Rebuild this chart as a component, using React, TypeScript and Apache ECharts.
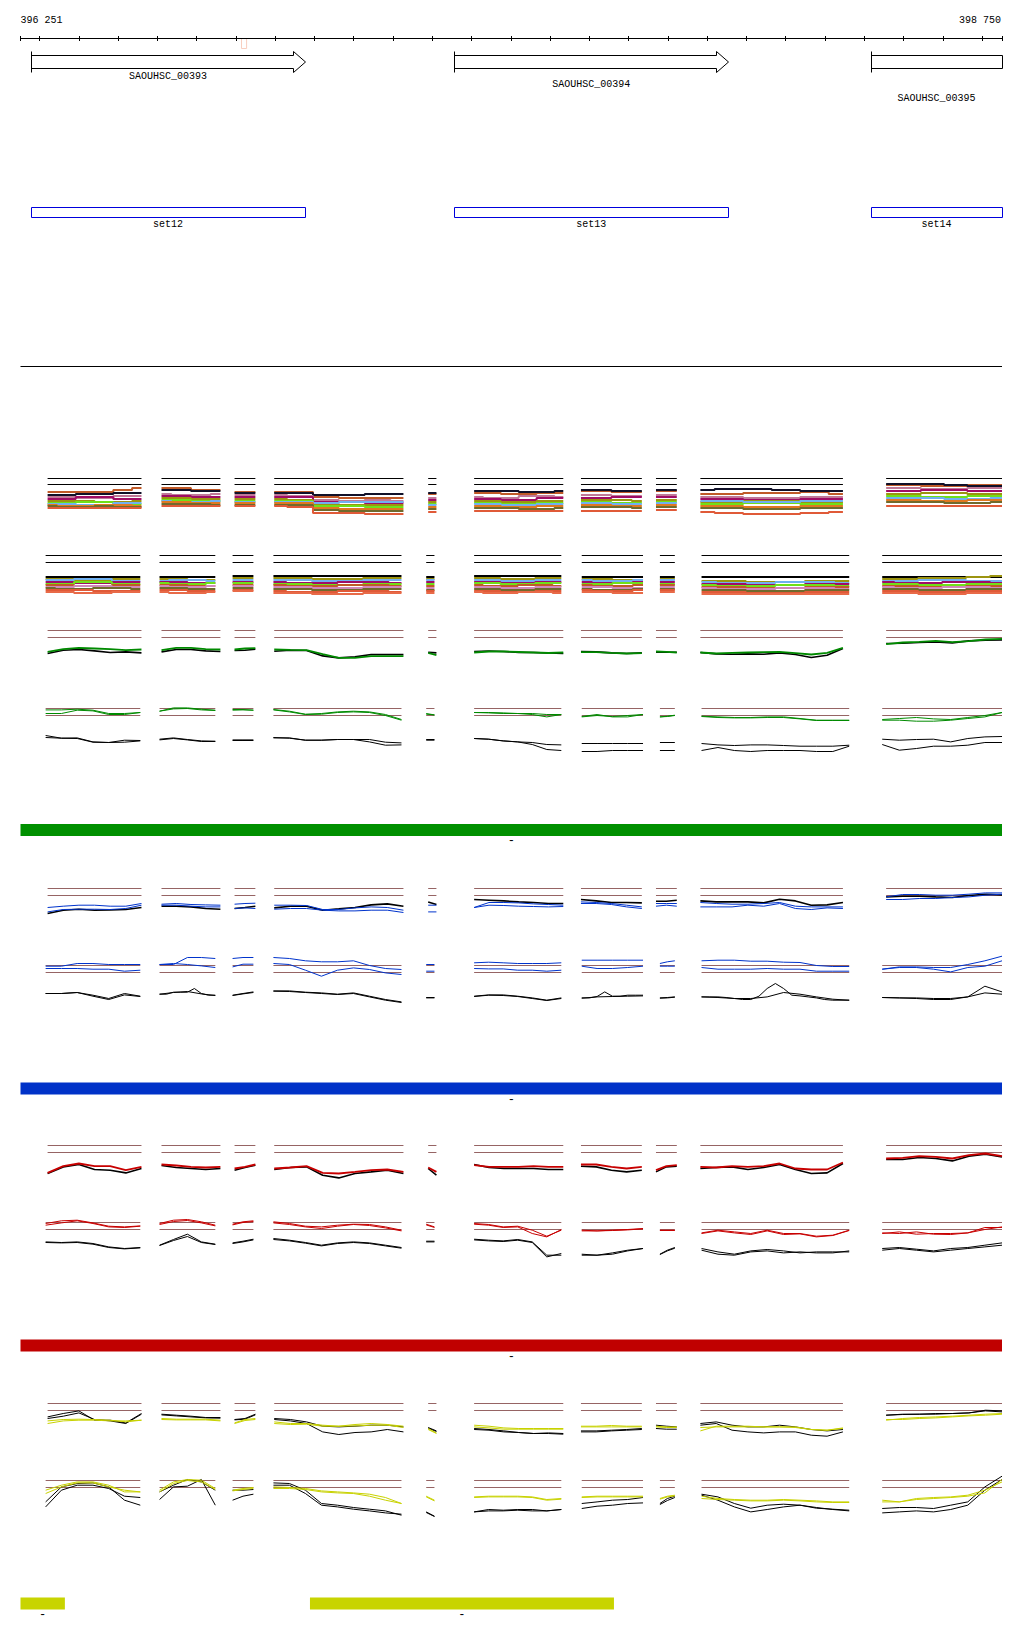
import React, { useEffect, useRef } from "react";
import * as echarts from "echarts";

// ---------------- region / ruler ----------------
const REGION_START = 396251;
const REGION_END = 398750;
const TICK_STEP = 100;
const rulerLabels = ["396 251", "398 750"];

// ---------------- genes ----------------
const geneNames = ["SAOUHSC_00393", "SAOUHSC_00394", "SAOUHSC_00395"];
const geneStarts = [396277, 397355, 398417];
const geneEnds = [396976, 398053, 398750];
const geneOpenEnd = [0, 0, 1];
const geneLabelLane = [0, 1, 2];

// ---------------- sets ----------------
const setNames = ["set12", "set13", "set14"];
const setStarts = [396277, 397355, 398417];
const setEnds = [396976, 398053, 398750];

const markerStarts = [396813];
const markerEnds = [396826];

// ---------------- probe windows ----------------
const segOdd = [
  [396320, 396559], [396610, 396760], [396796, 396849], [396897, 397226], [397289, 397310],
  [397406, 397633], [397678, 397833], [397869, 397922], [397982, 398345], [398455, 398750],
];
const segEven = [
  [396315, 396556], [396605, 396747], [396791, 396844], [396895, 397221], [397284, 397305],
  [397406, 397628], [397680, 397836], [397879, 397917], [397985, 398361], [398445, 398750],
];

// ---------------- group A (many samples), values = depth below threshold ----------------
const a1Sienna = [[14,14,14,14,12,10],[10,10,12,12],[14],[14,14,19,20,20,20],[16],[15,15,16,16,15,15],[13,13,14,14],[13],[16,16,15,15,14,16],[7,7,8,8,7,7]];
const a1Navy = [[17,17,16,16,15,15],[12,12,13,13],[15],[15,15,17,17,16,16],[15],[13,13,13,14,14,13],[12,12,13,13],[12],[12,11,11,12,13,13],[6,6,6,7,8,8]];
const a1Mauve = [[19,19,20,20,18,18],[16,17,17,16],[17],[17,18,22,23,22,23],[20],[19,20,20,18,18,19],[17,17,18,18],[17],[19,19,20,20,19,19],[10,10,11,11,10,10]];
const a1Magenta = [[21,21,19,19,21,21],[18,18,19,19],[19],[19,19,24,24,25,25],[22],[21,21,22,22,20,20],[20,20,19,19],[19],[21,21,22,22,21,21],[13,13,12,12,13,13]];
const a1Olive = [[23,23,23,24,24,23],[20,20,21,21],[21],[21,22,26,27,27,27],[24],[23,23,24,24,23,23],[22,22,22,23],[22],[24,24,23,23,24,24],[16,16,15,15,16,16]];
const a1Lime = [[25,25,24,24,26,26],[22,22,23,23],[23],[23,23,28,28,29,29],[26],[25,25,26,26,25,25],[24,24,25,25],[24],[26,26,25,25,26,26],[18,18,19,19,18,18]];
const a1Sky = [[26,26,27,27,25,25],[23,24,24,23],[24],[24,24,25,24,24,24],[27],[26,26,27,27,26,26],[25,25,26,26],[25],[23,23,24,24,23,23],[20,20,20,21,21,20]];
const a1Orange = [[27,28,28,27,27,28],[24,24,25,25],[25],[25,25,30,31,31,31],[29],[28,28,29,29,28,28],[27,27,28,28],[27],[28,28,29,29,28,28],[22,22,23,23,22,22]];
const a1DarkOlive = [[28,29,29,28,29,29],[26,26,26,27],[27],[27,27,32,33,33,33],[31],[30,30,30,31,31,30],[29,29,29,30],[29],[30,30,31,31,30,30],[24,24,24,25,25,24]];
const a1Tomato = [[30],[28],[28],[28,29,35,35,36,36],[34],[33],[33],[32],[34,35,36,36,35,34],[28]];

const a2Black = [[22],[22],[21],[21],[22],[21],[22],[22],[22],[22]];
const a2Olive = [[24,24,25,25,24,24],[24,24,25,25],[23],[23,23,24,24,23,23],[24],[23,23,24,24,23,23],[24,24,25,25],[24],[26,26,27,27,26,26],[24,24,23,23,22,21]];
const a2Sky = [[25,25,24,24,26,26],[26,25,25,26],[25],[25,25,26,26,25,25],[25],[25,25,26,26,25,25],[25,26,26,25],[25],[27,28,28,27,27,28],[26,26,25,25,26,26]];
const a2Magenta = [[27,27,28,28,27,27],[27,27,28,28],[27],[27,28,28,27,27,28],[27],[27,27,28,28,27,27],[27,28,28,27],[27],[29,29,30,30,29,29],[27,28,28,27,27,28]];
const a2Lime = [[29,29,27,27,29,29],[28,29,29,28],[28],[29,29,30,30,29,29],[29],[28,28,29,29,28,28],[29,29,28,28],[29],[30,31,31,30,30,31],[29,29,30,30,29,29]];
const a2Sienna = [[30,30,31,31,30,30],[30,30,31,31],[30],[30,31,31,30,30,31],[31],[30,31,31,30,30,31],[30,31,31,30],[30],[32,32,33,33,32,32],[31,31,32,32,31,31]];
const a2Pink = [[32,32,31,31,32,32],[31,32,32,31],[31],[32,32,33,33,32,32],[33],[32,32,33,33,32,32],[32,32,33,33],[32],[33,34,34,33,33,34],[32,33,33,32,32,33]];
const a2DarkOlive = [[33,34,34,33,33,34],[33,33,34,34],[33],[34,34,35,35,34,34],[35],[34,34,35,35,34,34],[34,35,35,34],[34],[35,35,36,36,35,35],[34,34,35,35,34,34]];
const a2Tomato = [[35,35,35,36,36,36],[35,35,36,36],[35],[36,37,37,36,36,37],[36],[36,36,37,37,36,36],[35,36,36,35],[35],[37,37,38,38,37,37],[36,36,37,37,36,36]];
const a2Salmon = [[37,37,38,38,37,37],[37,38,38,37],[36],[38,38,39,39,38,38],[38],[37,38,38,37,37,38],[37,37,38,38],[37],[39],[38,38,39,39,38,38]];

// ---------------- green group ----------------
const g1Green = [[21.4,18.7,17.4,18,18.7,19.7,19],[19.7,17.4,17.4,18.7,19],[19,18,17.7],[19,19.4,19.7,23.7,27.4,27.4,25.7,25.7,25.7],[22.4,24.7],[22,21,21,21.5,22,22.5,22],[21.7,21.7,22.4,23,22.7],[21,21.4,22],[22,23,22.4,22,21.7,21.4,22.7,24,22.4,17.4],[13.7,12,11.4,10.4,11.7,10.7,9,8.4]];
const g1Black = [[23,19.7,19,20.4,22,21.4,22.4],[21.4,19,19,20.4,21],[20,19.7,18.7],[20.7,19.7,20,25.4,27.4,26.4,24,24,24],[21.7,22.4],[21,20.5,21,22,22,22.5,23],[21,21.4,22.4,23,22.4],[21.7,21.7,21.7],[22,23.4,23.7,23.4,23.7,22.4,24,27,24.7,18],[13,12.7,12,11.4,12.4,10.4,9.7,9.4]];
const g2Green1 = [[1.4,1.4,0.7,1.7,5,5,4],[2.7,-0.6,-0.6,0.7,1.7],[1,1,1.7],[1,2.7,5.7,5,3.4,2.7,3.4,6,11],[5,6.4],[4,4,4.4,5,5,6,6],[8,6,8.4,8.4,6],[8.4,7.7,6.7],[7.7,8.4,9,9,8.4,8.4,10,11.7,11.7,11.7],[11,10,9,10.4,11,9,7,4]];
const g2Green2 = [[5,5,1.7,2.4,6,6,4],[2.7,0.4,0,1.4,2],[1.7,1.4,1.7],[1.4,3.4,6,5.7,4,3.4,4,7,11.7],[5.7,6.4],[4,4.4,5,5,6,8.4,6],[8.4,7,8,7,6],[8.4,8,7],[8,9,9.4,9.4,9,9,10.4,12,12,12],[11.7,11.7,12.7,12.7,11.7,10,8.4,4]];
const g2Black1 = [[27,29.7,29.4,33.4,34,31.7,32],[30.7,29.4,31,32.4,32.7],[31.4,31.4,31.4],[29,29.7,31.7,31.7,31,31,31,33.7,34.4],[31,31],[30,30.7,32.4,33.4,34,36,36.4],[35,35,35,35,35],[34,34],[35,36.4,37,36.4,36.4,37,37.7,37.7,37.7,36.7],[30.7,31.7,31,30.7,33.4,30,28.4,28]];
const g2Black2 = [[29,29.7,30,33.7,34,33.7,32.4],[31.4,30,31.4,33,33],[32,32,32],[29.4,29.4,31.7,31.7,31,31,33.4,36.7,36.4],[31.7,31.7],[30,30.7,32.4,33.4,36,41,42],[43,43,42,42,42],[42,42],[42,39,42,43,42,42,42,43,43,37.7],[36,41.7,40,37.7,37.7,36.7,34,34]];

// ---------------- blue group ----------------
const c1Blue1 = [[19,17.7,16.7,16.7,17.7,17.7,15],[15.7,15,16,16.4,16.7],[15.7,15,14.7],[16.7,16.7,17,21,21,19.4,18.4,19,21.7],[16.7,16.7],[19,14,14,14.4,15.4,16,16.7],[13.4,14,15,16.7,18.4],[15,15,15],[14,15,15.7,15.7,15,14,17.7,18.4,18.4,18.4],[8.4,6,6,6.7,6.7,5.7,4.4,4.4]];
const c1Blue2 = [[23.4,21,20.7,20.7,21,20,16.7],[16.7,16.7,17.7,18.4,18.4],[20,19.4,20],[20.7,20,20,21.7,22.4,22.4,21.7,21.7,24],[23.4,23.4],[19,16.7,17,17.7,18,18.4,18],[15,15,16,18.4,20],[17.7,16.7,17.7],[18.4,18.4,18.4,16.7,17.7,15,20,21,19.4,20],[11,11,10,10,9,8.4,6.7,5.7]];
const c1Black = [[25,21.7,20.7,21.7,21.4,21,19],[17.7,17.7,18.4,20,20.7],[20,19,17.7],[19.4,17.7,17.7,21.7,20.4,19,16.4,15.4,17.7],[13.4,16],[11,11.7,12.4,13.4,14,15,15],[11,12.4,14,14,14.4],[12.7,12.7,11.7],[12.4,13.4,13.4,13.4,14.4,10.7,12.4,16.7,16.4,14],[8.4,7.7,7.7,8.4,9,7,5.7,6.4]];
const c2Blue1 = [[0.7,0.7,-2,-2,-1,-1,-1],[-1,-1,-8,-8,-7],[-7,-8,-8],[-8,-7,-4.7,-3.7,-3.7,-4.7,0,3,4],[-1,-1],[-2.7,-3.3,-2.7,-2,-2,-2,-2.7],[-5.3,-5.3,-5.3,-5.3,-5.3],[-2,-3.7,-4.7],[-4.7,-5.3,-5.3,-4.3,-4.3,-3.3,-3,0,1,1],[3.7,1.4,1.4,2,2,-1,-4.7,-9.3]];
const c2Blue2 = [[3,3,3,3.7,3.7,5.7,4.7],[-1,-2,-1,0.4,2],[1.4,-1.3,-1.3],[-2,-1,4.7,10.7,4.7,2.4,4,7.4,9],[5.7,5.7],[3,3.4,3.4,4.7,4.7,5.7,4.7],[0.7,3,3,2,0.7],[0.7,0.7,0.7],[2,3.7,3.7,3.7,3,3.7,3.7,5.7,5.7,5.7],[3.7,2,2,3.7,6.4,2,0.7,-4.7]];
const c2Black1 = [[28,28,27,29.7,33,28,30.7],[28.7,28.7,26.7,26.7,26.7,23,28,29.7,29.7],[29.7,28,26.4],[25.4,25.4,26.7,27.4,28.7,27.4,30.7,34,36.4],[32,32],[30.7,29.4,29.4,30.7,32.4,34.7,32.4],[32.4,32.4,31,26.4,30.7,30.7,29.7,29.7,29.7],[32.4,32,31.4],[31.4,31.4,31.4,32,33,34,34,30.7,23,18,23,29.7,30.4,31.4,32.4,34,34.7,34.7,34.7],[32,32.4,32.4,33,33,31.4,20.7,26.4]];
const c2Black2 = [[28,28,27,30.7,34,29.4,31],[28.7,27,26,28.4,30],[30,28.4,27],[25.7,26,27,28,29,28,31.4,34.7,37],[32.4,32.4],[31,29.7,30,31,33,35,33],[32.7,31.4,31,30.7,30.4],[32.7,32.4,31.7],[31.4,32,33,33,31.4,27,28.7,31.4,33.7,34.7],[32,32.4,33,34,34,31.4,27.4,28.7]];

// ---------------- red group ----------------
const d1Red = [[27.4,20.7,18,20.7,20.7,24.7,21.4],[19,20,21.4,22,21.4],[23,21.4,19],[23,22,20.7,27.4,28,26.4,24.7,24,26.4],[22,26.4],[19.7,21.4,21.4,21.4,20.7,21.4,21.4],[19,19,21.4,23,21.4],[24.7,20.7,19.7],[21.4,22,20.7,21.4,20.7,18,23,24,24,17],[13,12.4,10.7,11.4,13,9.7,8,10.7]];
const d1Black = [[28,21.4,19,24,24.7,27.4,23],[20,22,23,24,23],[24.7,22,19.7],[24,22,21.4,29.7,32.4,28,26.4,24.7,28],[23,29.7],[19,22,23,23,23,24,24],[20.7,21.4,24.7,26.4,24.7],[26.4,21.4,20.7],[23,22,21.4,24,22,19,24,28,27.4,18],[14,14,12,13,15.4,10.7,8.7,11.4]];
const d2Red1 = [[1,-1.7,-2.3,0.4,3.7,4.4,3.4],[1,-2.3,-3,-0.7,2.7],[1.7,-0.7,-1.7],[-0.7,1,3.7,4.4,2.7,1.7,2,4.4,7.7],[1.7,4.4],[1,2,4.4,3.7,7.7,13.7,7.7],[7.7,8.4,7.7,7,6],[7.7,7.7],[10.4,7.7,9.4,11,7.7,11,11,13.7,12.7,7.7],[11,9.4,11.7,11,11,10.4,5,5]];
const d2Red2 = [[2.7,0.4,-1.7,1,4.4,5,3.7],[2,-1,-2,0.4,3.4],[2.4,0,-1],[0.4,2,4.4,6,3.7,2,3,5.4,8.4],[2.4,5],[1.7,2.7,5,4.4,11,14.4,7],[8.4,8.4,8,7.4,6.4],[8,8],[11,8.4,10.4,12,8.4,12,11.4,14.4,13,8],[10.4,11,9.4,11.7,12,10.4,7,4.4]];
const d2Black1 = [[19.4,20,19.4,21,24.4,26,25],[22.7,17,11.7,19.4,21.7],[20.4,18.7,16.7],[16,17.7,20,22.7,20.4,19.4,20.4,22.7,25],[18.7,18.7],[16.7,17.7,18.4,17,19.4,32.7,32.7],[31.7,32.7,31.7,28.4,26],[31.7,27.7,25],[26,29.4,31.7,28.4,27,28.4,30.4,29.4,29.4,29.4],[26,25,26.7,28.4,26,25,22.7,20.4]];
const d2Black2 = [[20,20.4,20,21.7,25,26.4,25.4],[23,18,14,20,22],[21,19.4,17.4],[17,18.4,20.7,23.4,21,20,21,23.4,25.7],[19.4,19.4],[17.4,18.4,19,17.7,20,34.4,31],[32.7,32.7,30.4,27.7,26],[32,28.4,25.7],[27.7,31.7,32.7,29.4,28.4,30.4,29.4,30.4,30.4,28.4],[27.7,26,27.7,29.4,27.7,26,24.4,22.7]];

// ---------------- yellow group ----------------
const e1Yellow1 = [[17.4,16,15.7,16,16.7,18.4,16.7],[15,15.7,15.7,15.7,16.7],[19.4,16,15],[18.4,20,20,21.7,22.7,21,20,21,22.7],[25,29.4],[21.7,22.7,24.4,25,25,25,25],[22.7,22.7,22,22.7,22.7],[22.7,23.4,23.4],[27.4,22.7,22.7,22.7,23.4,23.4,23.4,26,26.7,24.4],[16.7,15,14,13.4,12.7,11.7,10.7,10]];
const e1Yellow2 = [[20,17.4,16.7,16.7,17.4,17.4,16.7],[16,16.4,16.4,16.4,17.4],[20,17,16],[20,21,20.7,22.7,22.7,22.4,21.7,21.7,24],[26,30],[23.4,24.4,25.7,25.7,25.7,25.7,25.7],[23.4,23.4,23.4,23.4,23.4],[23.4,24,24],[24,23.4,23.4,23.4,23.4,23.4,24,26,26.7,25],[16,16,15,14.4,13.4,12.4,11.7,10.7]];
const e1Black1 = [[13.4,10,7.4,16.7,16.7,19.4,10],[10.7,11.7,12.7,14,14],[16,15,10.7],[15,16,18.4,22.7,23.4,22.7,21.7,21.7,23.4],[24,27.4],[25,26,27.4,29,30,29.4,30],[27.4,27.4,26.7,26,25],[21.7,22.7,23.4],[20,18.4,21.7,23.4,23.4,21.7,23.4,26,27.4,26],[11.7,10.7,10.7,10,10,9.4,7.4,8.4]];
const e1Black2 = [[15,12.7,9.4,16,17.4,20,10.7],[11.4,12.4,13.4,14.4,14.7],[16.4,15.7,11.4],[16,17.4,20,28.4,31,29,28.4,26,28.4],[24.7,28],[26,26.7,28.4,29,30,30,30.7],[28.4,28.4,27.4,26.7,26],[25,25.7,25.7],[21.7,20,26.7,28.4,29.4,28.4,28.4,31.7,32.7,28.4],[11.7,11,10.7,10.7,10,9.4,6.7,7.4]];
const e2Yellow1 = [[9.7,4.7,1.4,1.4,4.7,11.4,11.4],[9.7,1.4,-1,-0.3,8],[9.7,8,7],[6.4,7,8,10.4,11.4,12.4,13.7,17,23],[15.7,19.7],[16.4,15.7,15.7,15.7,16.4,19,18],[16.4,15.7,15.7,15.7,15.7],[18,15.7,14.7],[15.7,18,19,19.7,19.7,19,19.7,20.4,21.4,21.4],[19.7,21.4,18,17,16.4,14.7,9.7,1.4]];
const e2Yellow2 = [[13,6.4,2.4,2.4,6.4,9.7,11.4],[11.4,3,0,1.4,9],[10.4,9,8],[8,8,9,11.4,12.4,13,15.7,19.7,23],[16.4,20.4],[17,16.4,16.4,16.4,17,19.7,18.7],[17,16.4,16.4,16.4,16.4],[18.7,16.4,15.4],[18,19,19.7,20.4,20.4,19.7,20.4,21.4,22,22],[21.4,21.4,19,18,17,15.7,12.4,-1]];
const e2Black1 = [[26.4,9.7,4.7,4.7,8,15.7,17],[19,6.4,5.7,-1,24.7],[19.7,15.7,13.7],[2.4,3,9.7,23,24.7,27,28.7,30.4,34.7],[31.4,35.7],[31.4,29,29.7,29,29,30.4,29],[23,21.4,19.7,19,17],[23,18,15.7],[13.7,16.4,23,27.7,24.7,23.7,24.7,27.7,28.7,29.7],[28,27,27,28,24.7,21.4,6.4,-4.3]];
const e2Black2 = [[21.4,6.4,3,2.4,6.4,19.7,24.7],[11.4,4.7,-1,1.4,9.7],[9.7,9.7,9],[4.7,4.7,13,24.7,26.4,28.7,30.4,32.4,33.7],[32,36],[31.4,30.4,30.4,29.7,30.4,30.4,29],[28,25.7,24.7,23,22.4],[24,20,17],[14.7,19.7,26.4,31.4,29,26.4,24.7,27,29,30.4],[32.4,31.4,30.4,31.4,29,24.7,9.7,-1]];

// ---------------- region bars ----------------
const greenRegions = [[396251, 398750]];
const blueRegions = [[396251, 398750]];
const redRegions = [[396251, 398750]];
const yellowRegions = [[396251, 396364], [396988, 397762]];

// ---------------- layout ----------------
const W = 1024;
const H = 1640;
const PX_LEFT = 20.5;
const PX_RIGHT = 1002;
const PX_PER_BP = (PX_RIGHT - PX_LEFT) / (REGION_END - REGION_START);
const X_MIN = REGION_START - PX_LEFT / PX_PER_BP;
const X_MAX = X_MIN + W / PX_PER_BP;
const FONT = '10px "Liberation Mono", "DejaVu Sans Mono", monospace';
const DASH_FONT = '12px "Liberation Mono", "DejaVu Sans Mono", monospace';
const REF_BROWN = "#966464";
const GREEN = "#008a00";
const BLUE = "#0033cc";
const RED = "#c80000";
const YELLOW = "#c8d200";

// probe values are evenly spaced across each window; windows separated by a gap
function segLine(segs, vals, stepped) {
  const out = [];
  for (let i = 0; i < segs.length; i++) {
    const s = segs[i][0];
    const e = segs[i][1];
    const v = vals[i];
    if (!v || !v.length) continue;
    const pts = v.length === 1 ? [v[0], v[0]] : v;
    const n = pts.length;
    const xs = pts.map((_, j) => s + ((e - s) * j) / (n - 1));
    if (stepped) {
      out.push([xs[0], pts[0]]);
      for (let j = 1; j < n; j++) {
        const m = (xs[j - 1] + xs[j]) / 2;
        out.push([m, pts[j - 1]]);
        out.push([m, pts[j]]);
      }
      out.push([xs[n - 1], pts[n - 1]]);
    } else {
      for (let j = 0; j < n; j++) out.push([xs[j], pts[j]]);
    }
    out.push([e, "-"]);
  }
  return out;
}

function buildOption() {
  const grids = [];
  const xAxes = [];
  const yAxes = [];
  const series = [];
  const addGrid = (top, height, yMin, yMax) => {
    const i = grids.length;
    grids.push({ left: 0, top, width: W, height, show: false, containLabel: false });
    xAxes.push({ type: "value", gridIndex: i, min: X_MIN, max: X_MAX, show: false });
    yAxes.push({ type: "value", gridIndex: i, min: yMin, max: yMax, inverse: true, show: false });
    return i;
  };
  const lineSeries = (gi, data, color, width, z) => ({
    type: "line",
    xAxisIndex: gi,
    yAxisIndex: gi,
    data,
    symbol: "none",
    showSymbol: false,
    connectNulls: false,
    clip: false,
    silent: true,
    animation: false,
    z: z || 2,
    lineStyle: { color, width },
    itemStyle: { color },
    emphasis: { disabled: true },
  });

  // ---------- header ----------
  const hg = addGrid(0, 380, 0, 380);
  series.push(lineSeries(hg, [[REGION_START, 38.5], [REGION_END, 38.5]], "#000", 1));
  const ticks = [REGION_START];
  for (let t = Math.ceil(REGION_START / TICK_STEP) * TICK_STEP; t < REGION_END; t += TICK_STEP) ticks.push(t);
  ticks.push(REGION_END);
  series.push({
    type: "custom", xAxisIndex: hg, yAxisIndex: hg, silent: true, clip: false, animation: false,
    data: ticks.map((t) => [t, 38.5]),
    renderItem: (params, api) => {
      const p = api.coord([api.value(0), api.value(1)]);
      const x = Math.round(p[0] - 0.5) + 0.5;
      return { type: "line", shape: { x1: x, y1: 36, x2: x, y2: 41 }, style: { stroke: "#000", lineWidth: 1 } };
    },
  });
  series.push({
    type: "custom", xAxisIndex: hg, yAxisIndex: hg, silent: true, clip: false, animation: false,
    data: [[REGION_START, 20.5, 0], [REGION_END, 20.5, 1]],
    renderItem: (params, api) => {
      const p = api.coord([api.value(0), api.value(1)]);
      const right = api.value(2) === 1;
      return {
        type: "text",
        style: { text: rulerLabels[params.dataIndex], x: right ? p[0] - 1 : p[0], y: p[1], fill: "#000", font: FONT, align: right ? "right" : "left", verticalAlign: "middle" },
      };
    },
  });
  // marker
  series.push({
    type: "custom", xAxisIndex: hg, yAxisIndex: hg, silent: true, clip: false, animation: false,
    data: markerStarts.map((s, i) => [s, markerEnds[i]]),
    renderItem: (params, api) => {
      const a = api.coord([api.value(0), 38.5]);
      const b = api.coord([api.value(1), 48.5]);
      return { type: "rect", shape: { x: Math.round(a[0]) + 0.5, y: 38.5, width: Math.max(4, b[0] - a[0]), height: 10 }, style: { fill: "none", stroke: "#f8cfc0", lineWidth: 1 } };
    },
  });
  // genes
  const laneY = [76, 84.5, 98];
  series.push({
    type: "custom", xAxisIndex: hg, yAxisIndex: hg, silent: true, clip: false, animation: false,
    data: geneNames.map((n, i) => [geneStarts[i], geneEnds[i], geneLabelLane[i], geneOpenEnd[i]]),
    renderItem: (params, api) => {
      const s = api.coord([api.value(0), 0])[0];
      const e = api.coord([api.value(1), 0])[0];
      const lane = api.value(2);
      const open = api.value(3) === 1;
      const x0 = Math.round(s) + 0.5;
      const x1 = Math.round(e) + 0.5;
      const yT = 55.5, yB = 68.5, hT = 51.5, hB = 72.5, yM = 62;
      const head = 12;
      const points = open
        ? [[x0, yT], [x1, yT], [x1, yB], [x0, yB]]
        : [[x0, yT], [x1 - head, yT], [x1 - head, hT], [x1, yM], [x1 - head, hB], [x1 - head, yB], [x0, yB]];
      return {
        type: "group",
        children: [
          { type: "polygon", shape: { points }, style: { fill: "#fff", stroke: "#000", lineWidth: 1 } },
          { type: "line", shape: { x1: x0, y1: hT, x2: x0, y2: hB }, style: { stroke: "#000", lineWidth: 1 } },
          { type: "text", style: { text: geneNames[params.dataIndex], x: (s + e) / 2, y: laneY[lane], fill: "#000", font: FONT, align: "center", verticalAlign: "middle" } },
        ],
      };
    },
  });
  // sets
  series.push({
    type: "custom", xAxisIndex: hg, yAxisIndex: hg, silent: true, clip: false, animation: false,
    data: setNames.map((n, i) => [setStarts[i], setEnds[i]]),
    renderItem: (params, api) => {
      const s = api.coord([api.value(0), 0])[0];
      const e = api.coord([api.value(1), 0])[0];
      const x0 = Math.round(s) + 0.5;
      const x1 = Math.round(e) + 0.5;
      return {
        type: "group",
        children: [
          { type: "rect", shape: { x: x0, y: 207.5, width: x1 - x0, height: 10 }, style: { fill: "#fff", stroke: "#0000dd", lineWidth: 1 } },
          { type: "text", style: { text: setNames[params.dataIndex], x: (s + e) / 2, y: 224.7, fill: "#000", font: FONT, align: "center", verticalAlign: "middle" } },
        ],
      };
    },
  });
  // separator
  series.push(lineSeries(hg, [[REGION_START, 366.5], [REGION_END, 366.5]], "#000", 1));

  // ---------- rows ----------
  const rows = [
    { top: 478, segs: segOdd, refColor: "#000", refs: [0.5, 6.5], stepped: true, lines: [
      [a1Sienna, "#c05a28", 2], [a1Navy, "#101028", 2], [a1Mauve, "#c07898", 2], [a1Magenta, "#a00c66", 2], [a1Olive, "#9c9410", 2],
      [a1Lime, "#70e018", 2], [a1Sky, "#70b0f0", 2], [a1Orange, "#e07820", 2], [a1DarkOlive, "#706a2c", 2], [a1Tomato, "#e05a38", 2]] },
    { top: 555, segs: segEven, refColor: "#000", refs: [0.5, 7.5], stepped: true, lines: [
      [a2Black, "#000", 2], [a2Olive, "#9c9410", 2], [a2Sky, "#70b0f0", 2], [a2Magenta, "#a00c66", 2], [a2Lime, "#70e018", 2],
      [a2Sienna, "#c05a28", 2], [a2Pink, "#d088b8", 2], [a2DarkOlive, "#706a2c", 2], [a2Tomato, "#e05a38", 2], [a2Salmon, "#e86a48", 2]] },
    { top: 630.5, segs: segOdd, refColor: REF_BROWN, refs: [0, 7], lines: [[g1Black, "#000", 1.6], [g1Green, GREEN, 1.8]] },
    { top: 708.5, segs: segEven, refColor: REF_BROWN, refs: [0, 7], lines: [[g2Black1, "#000", 1], [g2Black2, "#000", 1], [g2Green1, GREEN, 1], [g2Green2, GREEN, 1]] },
    { top: 888.5, segs: segOdd, refColor: REF_BROWN, refs: [0, 7], lines: [[c1Black, "#000", 1.6], [c1Blue1, BLUE, 1], [c1Blue2, BLUE, 1]] },
    { top: 965.5, segs: segEven, refColor: REF_BROWN, refs: [0, 7], lines: [[c2Black1, "#000", 1], [c2Black2, "#000", 1], [c2Blue1, BLUE, 1], [c2Blue2, BLUE, 1]] },
    { top: 1145.5, segs: segOdd, refColor: REF_BROWN, refs: [0, 7], lines: [[d1Black, "#000", 1.6], [d1Red, RED, 1.8]] },
    { top: 1222.5, segs: segEven, refColor: REF_BROWN, refs: [0, 7], lines: [[d2Black1, "#000", 1], [d2Black2, "#000", 1], [d2Red1, RED, 1], [d2Red2, RED, 1]] },
    { top: 1403.5, segs: segOdd, refColor: REF_BROWN, refs: [0, 7], lines: [[e1Black1, "#000", 1], [e1Black2, "#000", 1], [e1Yellow1, YELLOW, 1], [e1Yellow2, YELLOW, 1]] },
    { top: 1480.5, segs: segEven, refColor: REF_BROWN, refs: [0, 7], lines: [[e2Black1, "#000", 1], [e2Black2, "#000", 1], [e2Yellow1, YELLOW, 1], [e2Yellow2, YELLOW, 1]] },
  ];
  rows.forEach((r) => {
    const gi = addGrid(r.top - 12, 60, -12, 48);
    r.refs.forEach((lv) => {
      series.push(lineSeries(gi, segLine(r.segs, r.segs.map(() => [lv]), false), r.refColor, 1, 1));
    });
    r.lines.forEach((l, k) => {
      series.push(lineSeries(gi, segLine(r.segs, l[0], !!r.stepped), l[1], l[2], 2 + k * 0.01));
    });
  });

  // ---------- region bars ----------
  const bars = [
    { top: 824, regions: greenRegions, color: "#009000" },
    { top: 1082.5, regions: blueRegions, color: "#0032c8" },
    { top: 1339.5, regions: redRegions, color: "#c00000" },
    { top: 1597.5, regions: yellowRegions, color: "#c8d400" },
  ];
  bars.forEach((b) => {
    const gi = addGrid(b.top, 12, 0, 1);
    series.push({
      type: "custom", xAxisIndex: gi, yAxisIndex: gi, silent: true, clip: false, animation: false,
      data: b.regions.map((r) => [r[0], r[1]]),
      renderItem: (params, api) => {
        const a = api.coord([api.value(0), 0]);
        const c = api.coord([api.value(1), 1]);
        return {
          type: "group",
          children: [
            { type: "rect", shape: { x: a[0], y: a[1], width: c[0] - a[0], height: c[1] - a[1] }, style: { fill: b.color } },
            { type: "text", style: { text: "-", x: (a[0] + c[0]) / 2, y: c[1] + 5, fill: "#000", font: DASH_FONT, align: "center", verticalAlign: "middle" } },
          ],
        };
      },
    });
  });

  return {
    animation: false,
    backgroundColor: "#ffffff",
    grid: grids,
    xAxis: xAxes,
    yAxis: yAxes,
    series,
  };
}

export default function App() {
  const ref = useRef(null);
  useEffect(() => {
    if (!ref.current) return;
    const chart = echarts.init(ref.current, null, { renderer: "svg", width: W, height: H });
    chart.setOption(buildOption());
    return () => chart.dispose();
  }, []);
  return (
    <div
      ref={ref}
      style={{ position: "absolute", left: 0, top: 0, width: W, height: H, background: "#fff" }}
    />
  );
}
